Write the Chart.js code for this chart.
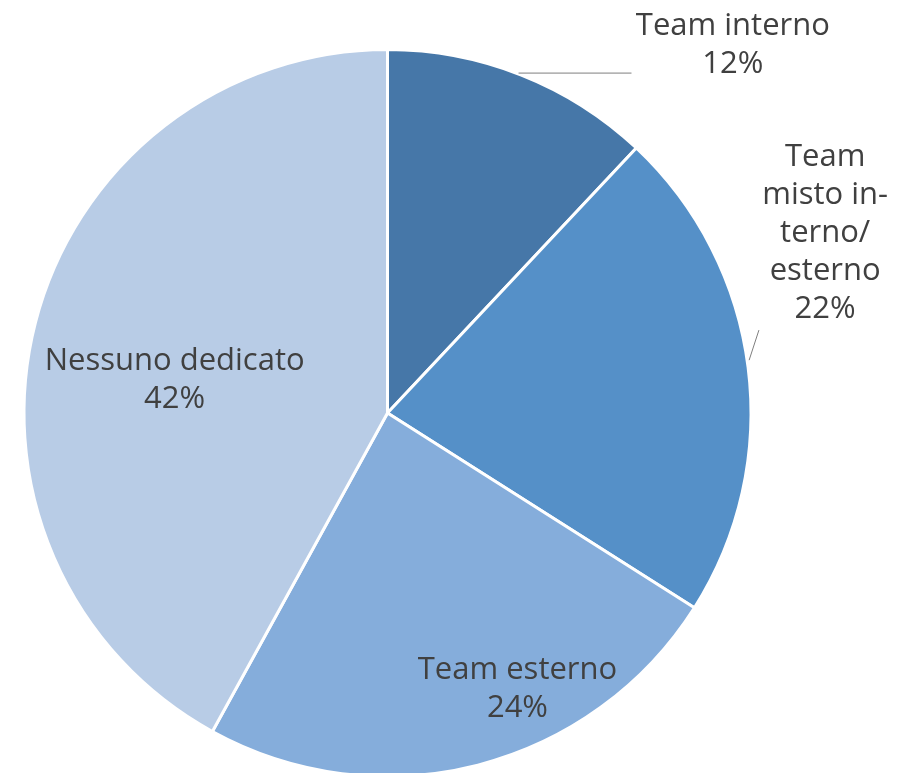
<!DOCTYPE html>
<html>
<head>
<meta charset="utf-8">
<script src="https://cdn.jsdelivr.net/npm/chart.js@4"></script>
<style>
  html, body { margin: 0; padding: 0; background: #fff; overflow: hidden; }
  #wrap { position: relative; width: 905px; height: 800px; }
</style>
</head>
<body>
<div id="wrap"><canvas id="pieChart"></canvas></div>
<script>
// === DATA ===
const categories = ["Team interno", "Team misto interno/esterno", "Team esterno", "Nessuno dedicato"];
const labelLines = [
  ["Team interno", "12%"],
  ["Team", "misto in-", "terno/", "esterno", "22%"],
  ["Team esterno", "24%"],
  ["Nessuno dedicato", "42%"]
];
const shares = [12, 22, 24, 42];
const colors = ["#4677A8", "#5590C8", "#85ADDB", "#B8CCE6"];

// label spots, in units of the pie radius from the centre (first baseline)
const labelSpots = [
  { fx: 0.954, fy: -1.044 },
  { fx: 1.209, fy: -0.682 },
  { fx: 0.359, fy: 0.735 },
  { fx: -0.588, fy: -0.119 }
];
// leader lines, same units
const leaders = [
  [[0.362, -0.939], [0.674, -0.939]],
  [[0.999, -0.146], [1.026, -0.229]],
  null,
  null
];

// === LABEL PLUGIN ===
const pieLabels = {
  id: "pieLabels",
  afterDatasetsDraw(chart) {
    const arc = chart.getDatasetMeta(0).data[0];
    const cx = arc.x, cy = arc.y, r = arc.outerRadius - 1.5;
    const ctx = chart.ctx;
    ctx.save();
    ctx.strokeStyle = "#7f7f7f";
    ctx.lineWidth = 1;
    leaders.forEach(l => {
      if (!l) return;
      ctx.beginPath();
      ctx.moveTo(cx + l[0][0] * r, cy + l[0][1] * r);
      ctx.lineTo(cx + l[1][0] * r, cy + l[1][1] * r);
      ctx.stroke();
    });
    ctx.fillStyle = "#404040";
    ctx.font = "31px 'Open Sans'";
    ctx.textAlign = "center";
    ctx.textBaseline = "alphabetic";
    labelLines.forEach((lines, i) => {
      const s = labelSpots[i];
      const x = cx + s.fx * r;
      let y = cy + s.fy * r;
      lines.forEach(t => {
        ctx.fillText(t, x, y);
        y += 38;
      });
    });
    ctx.restore();
  }
};

// === PIE CHART ===
const ctx = document.getElementById("pieChart").getContext("2d");
new Chart(ctx, {
  type: "pie",
  data: {
    labels: categories,
    datasets: [{
      data: shares,
      backgroundColor: colors,
      borderColor: "#ffffff",
      borderWidth: 3
    }]
  },
  options: {
    responsive: true,
    maintainAspectRatio: false,
    animation: false,
    layout: { padding: { left: 22.5, top: 48, right: 152.5, bottom: 22 } },
    plugins: {
      legend: { display: false },
      tooltip: { enabled: false }
    }
  },
  plugins: [pieLabels]
});
</script>
</body>
</html>
